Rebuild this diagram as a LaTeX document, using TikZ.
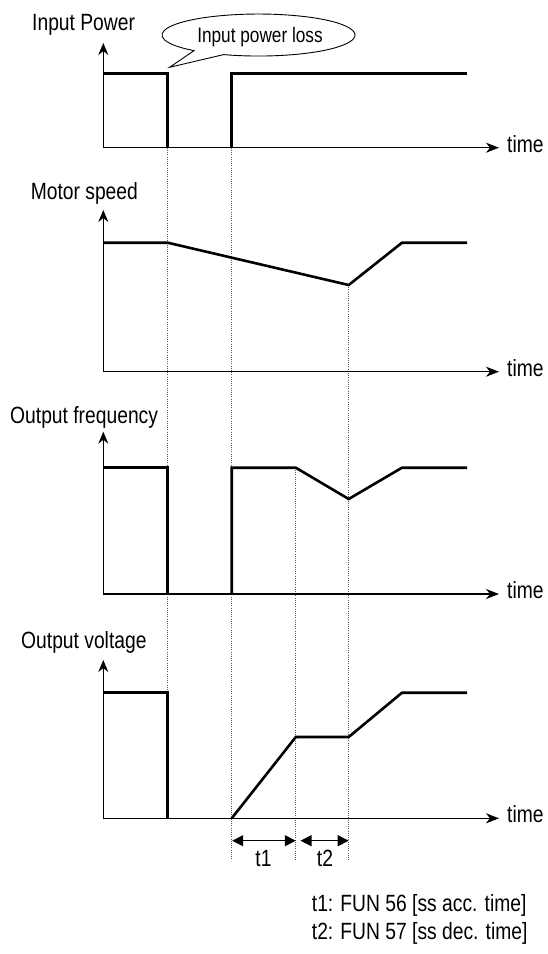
\documentclass[tikz,border=0pt]{standalone}
\usepackage{fontspec}
\setmainfont[FakeStretch=0.82]{Liberation Sans}
\usetikzlibrary{arrows.meta}
\begin{document}
\begin{tikzpicture}[x=1pt,y=-1pt,
  wave/.style={line width=2.6pt,line join=miter,line cap=butt},
  axisline/.style={line width=1.3pt,-{Stealth[length=13pt,width=10pt,inset=4pt]}},
  yaxisline/.style={line width=1.3pt,-{Stealth[length=12pt,width=10pt,inset=4pt]}},
  guide/.style={line width=0.9pt,black!65,dash pattern=on 1pt off 1.2pt},
  lbl/.style={inner sep=0pt,anchor=base west,font=\fontsize{23.5}{27}\selectfont},
  tlbl/.style={inner sep=0pt,anchor=base,font=\fontsize{23.5}{27}\selectfont},
  dim/.style={line width=1.2pt,{Triangle[length=11pt,width=11pt]}-{Triangle[length=11pt,width=11pt]}}
]
\useasboundingbox (0,0) rectangle (548,954);

% guide lines (dotted)
\draw[guide] (167.7,147.7) -- (167.7,692.7);
\draw[guide] (231.7,147.7) -- (231.7,860);
\draw[guide] (295.8,467.7) -- (295.8,860);
\draw[guide] (348.7,285) -- (348.7,860);

% ---- Panel 1: Input Power
\node[lbl] (l1) at (32,30) {Input Power};
\coordinate (o1) at (103.3,147.7);
\coordinate (y1) at (103.3,43);
\coordinate (x1) at (499,147.7);
\draw[yaxisline] (o1) -- (y1);
\draw[axisline] (o1) -- (x1);
\node[lbl] (t1time) at (507,152) {time};
\draw[wave] (103.3,73.5) -- (167.7,73.5) -- (167.7,147.7);
\draw[wave] (231.7,147.7) -- (231.7,73.5) -- (467,73.5);

% callout
\draw[line width=0.9pt,fill=white]
  (223.6,54.6) arc[start angle=111.2,end angle=-228.1,x radius=96.5,y radius=21]
  -- (169.6,67.3) -- cycle;
\node[inner sep=0pt,anchor=base,font=\fontsize{21}{24}\selectfont] (loss) at (260,42) {Input power loss};

% ---- Panel 2: Motor speed
\node[lbl] (l2) at (30.6,199) {Motor speed};
\coordinate (o2) at (103.3,371.7);
\coordinate (y2) at (103.3,210);
\coordinate (x2) at (499,371.7);
\draw[yaxisline] (o2) -- (y2);
\draw[axisline] (o2) -- (x2);
\node[lbl] (t2time) at (507,376) {time};
\draw[wave] (103.3,242.7) -- (167.7,242.7) -- (348.7,285) -- (402,242.7) -- (467,242.7);

% ---- Panel 3: Output frequency
\node[lbl] (l3) at (10,423.5) {Output frequency};
\coordinate (o3) at (103.3,594);
\coordinate (y3) at (103.3,431.7);
\coordinate (x3) at (499,594);
\draw[yaxisline] (o3) -- (y3);
\draw[axisline] (o3) -- (x3);
\node[lbl] (t3time) at (507,598.3) {time};
\draw[wave] (103.3,467.7) -- (167.7,467.7) -- (167.7,594);
\draw[wave] (231.7,594) -- (231.7,467.7) -- (295.8,467.7) -- (348.7,499) -- (402,467.7) -- (467,467.7);

% ---- Panel 4: Output voltage
\node[lbl] (l4) at (21,648) {Output voltage};
\coordinate (o4) at (103.3,818.3);
\coordinate (y4) at (103.3,660);
\coordinate (x4) at (499,818.3);
\draw[yaxisline] (o4) -- (y4);
\draw[axisline] (o4) -- (x4);
\node[lbl] (t4time) at (507,822.6) {time};
\draw[wave] (103.3,692.7) -- (167.7,692.7) -- (167.7,818.3);
\draw[wave] (231.7,818.3) -- (295.8,737) -- (348.7,737) -- (402,692.7) -- (467,692.7);

% ---- t1 / t2 dimension arrows
\coordinate (d1a) at (232.2,840.7);
\coordinate (d1b) at (295.8,840.7);
\coordinate (d2a) at (300.5,840.7);
\coordinate (d2b) at (348.7,840.7);
\draw[dim] (d1a) -- (d1b);
\draw[dim] (d2a) -- (d2b);
\node[tlbl] (tt1) at (263.5,866.7) {t1};
\node[tlbl] (tt2) at (325,866.7) {t2};

% ---- legend
\node[lbl] (leg1) at (311.7,911.5) {t1: FUN 56 [ss acc. time]};
\node[lbl] (leg2) at (311.7,939) {t2: FUN 57 [ss dec. time]};
\end{tikzpicture}
\end{document}
